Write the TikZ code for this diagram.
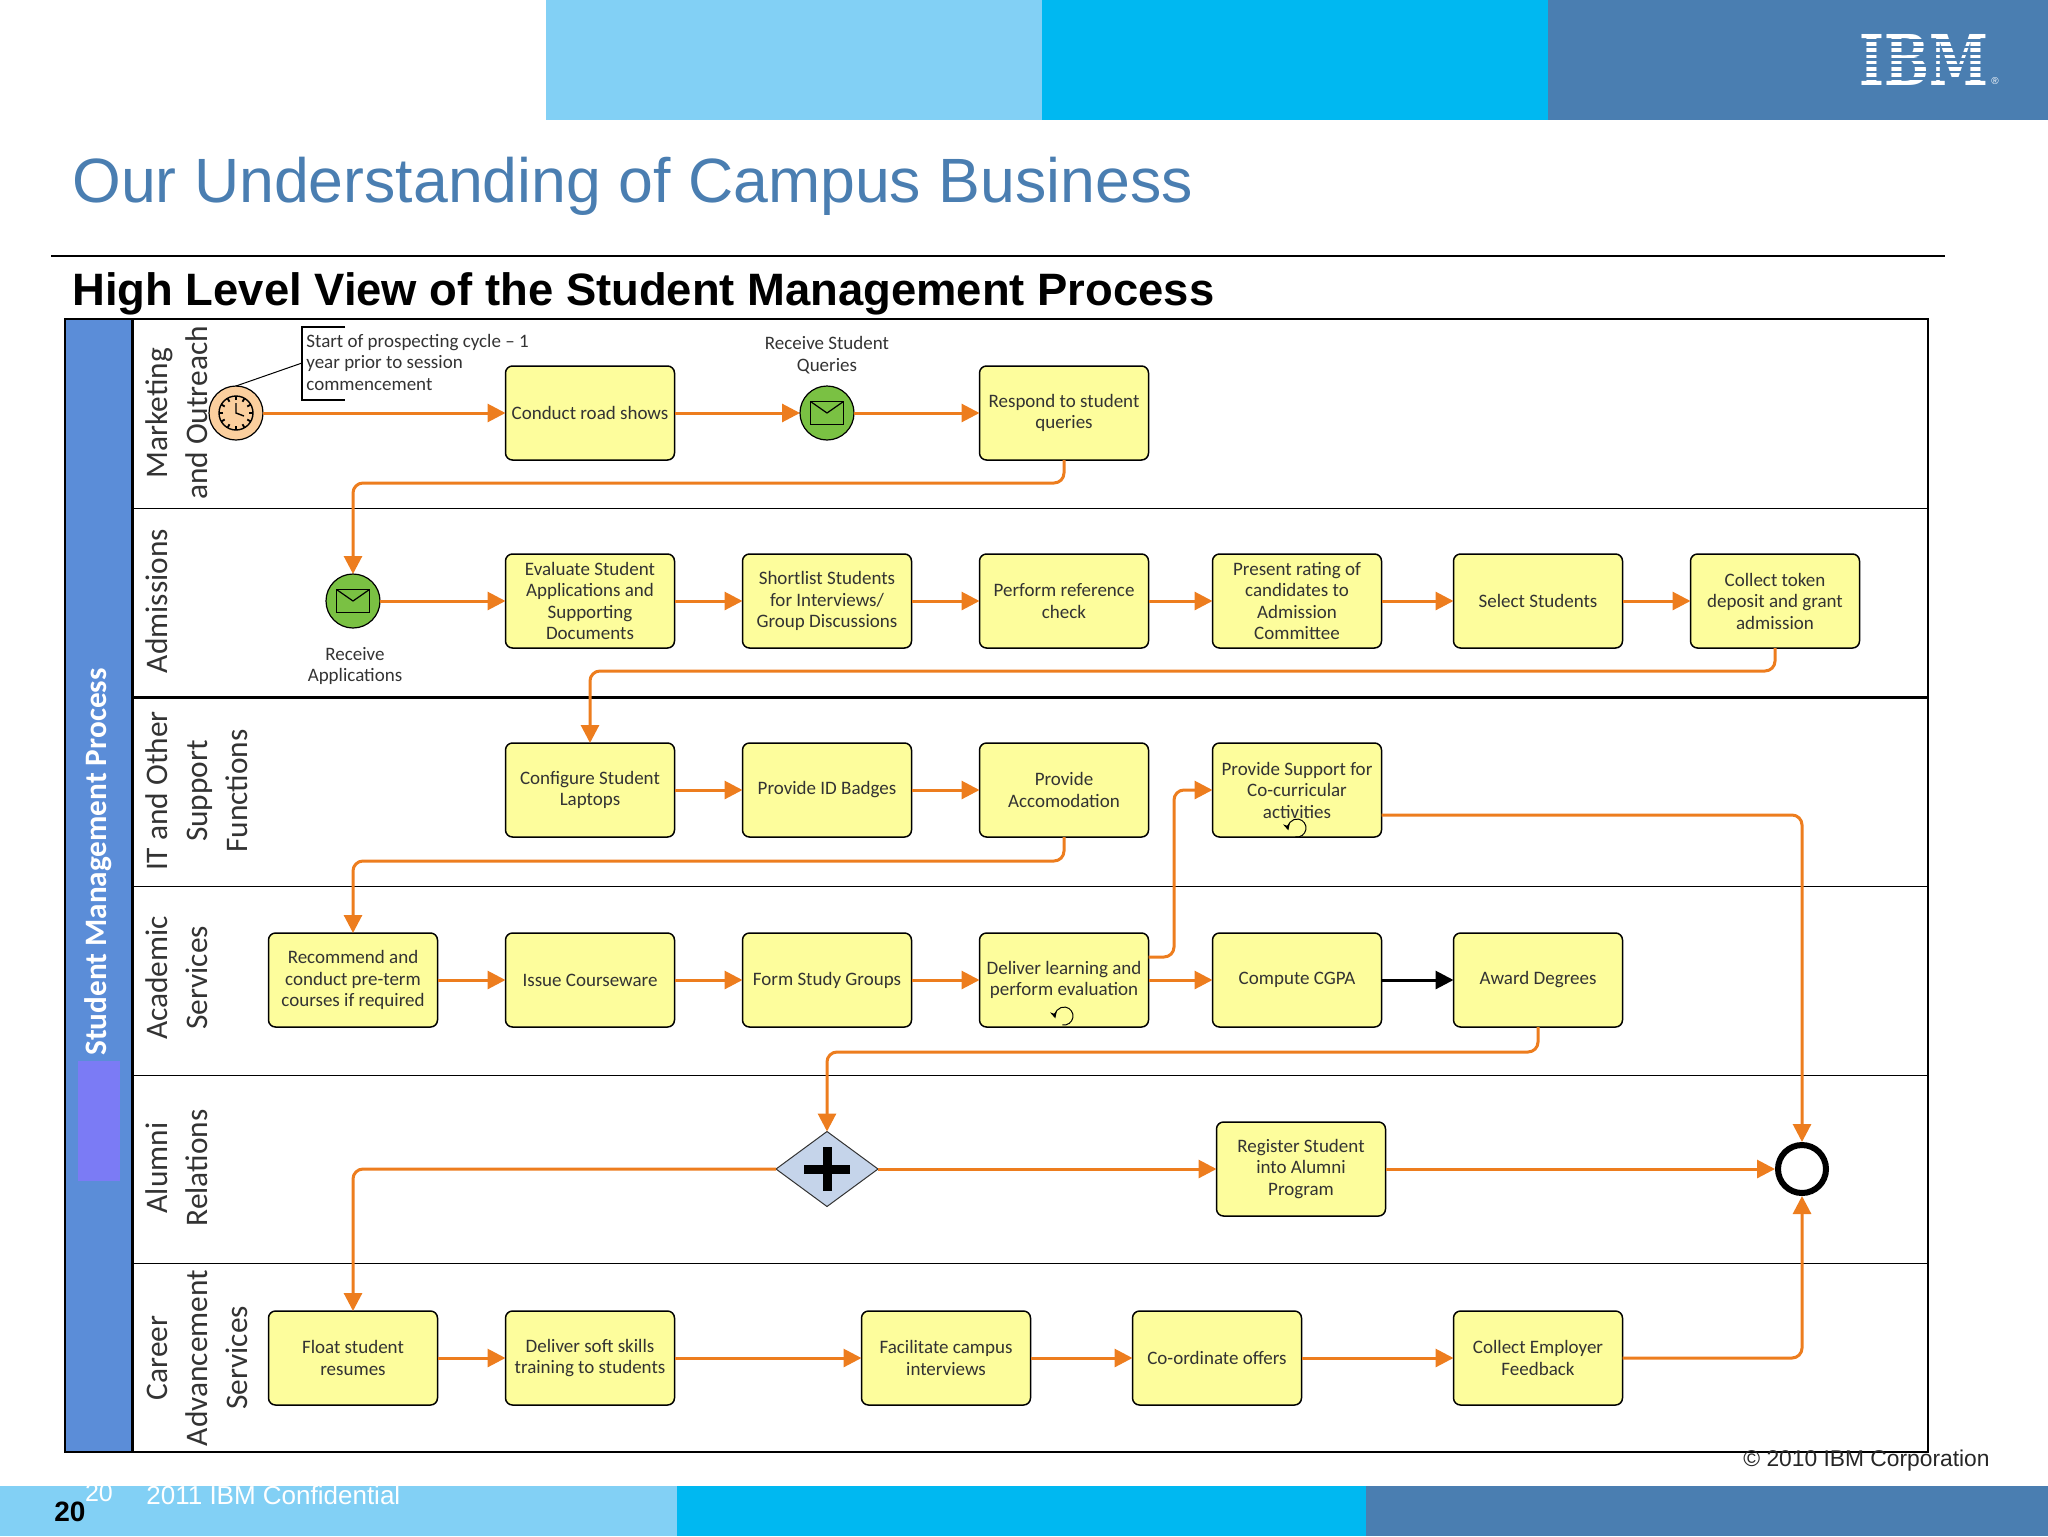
\documentclass[tikz,border=0pt]{standalone}
\usepackage{fontspec}
\setmainfont{Liberation Sans}
\newfontfamily\boxfont{Carlito}
\newfontfamily\logofont{DejaVu Serif}
\usetikzlibrary{arrows.meta,calc,positioning,shapes.geometric}
\definecolor{barlight}{HTML}{82D0F5}
\definecolor{barcyan}{HTML}{00B8F1}
\definecolor{barblue}{HTML}{4A7EB1}
\definecolor{laneblue}{HTML}{5B8DD8}
\definecolor{blobblue}{HTML}{7B7BF5}
\definecolor{flowline}{HTML}{ED7D1E}
\definecolor{taskfill}{HTML}{FDFD9C}
\definecolor{gatefill}{HTML}{C5D4EA}
\definecolor{msgfill}{HTML}{7AC143}
\definecolor{clockfill}{HTML}{FBCF9E}
\definecolor{inktext}{HTML}{333333}
\tikzset{
	task/.style={draw=black,fill=taskfill,rounded corners=3.5pt,line width=0.75pt,minimum width=84.5pt,minimum height=47pt,inner sep=0pt,outer sep=0pt,align=center,font=\boxfont\fontsize{9.5}{10.75}\selectfont,text=inktext},
	evt/.style={circle,draw=black,line width=0.6pt,minimum size=27pt,inner sep=0pt,outer sep=0pt},
	msgevt/.style={evt,fill=msgfill},
	lane/.style={rotate=90,align=center,font=\boxfont\fontsize{15.7}{20}\selectfont,text=inktext},
	caption/.style={align=center,font=\boxfont\fontsize{9.5}{10.75}\selectfont,text=inktext},
	flow/.style={->,color=flowline,line width=1.5pt,rounded corners=5pt},
	laneline/.style={draw=black,line width=0.5pt},
	msgmark/.pic={
		\draw[black,line width=0.6pt] (-16.5,-11.5) rectangle (16.5,11.5);
		\draw[black,line width=0.6pt] (-16.5,-11.5) -- (0,0) -- (16.5,-11.5);
	},
	loopmark/.pic={
		\draw[black,line width=0.5pt,->,>={Stealth[length=3.5pt,width=3.5pt]}] (-100:4.5pt) arc[start angle=-100,end angle=195,radius=4.5pt];
	},
	plusmark/.pic={
		\fill[black] (-23,-4.5) rectangle (23,4.5);
		\fill[black] (-4.5,-22) rectangle (4.5,22);
	},
	clockmark/.pic={
		\draw[black,line width=0.7pt] (0,0) circle[radius=8.5pt];
		\foreach \a in {0,30,...,330}
			\draw[black,line width=0.9pt] (\a:6.5pt) -- (\a:8.5pt);
		\draw[black,line width=0.7pt] (0,-10) -- (0,0) -- (8,3);
	}
}
\begin{document}
\begin{tikzpicture}[x=0.5pt,y=-0.5pt,>={Triangle[length=9pt,width=9pt]},node distance=34pt]
	\useasboundingbox (0,0) rectangle (2048,1536);
	\fill[barlight] (546,0) rectangle (1042,120);
	\fill[barcyan] (1042,0) rectangle (1548,120);
	\fill[barblue] (1548,0) rectangle (2048,120);
	\fill[barlight] (0,1486) rectangle (677,1536);
	\fill[barcyan] (677,1486) rectangle (1366,1536);
	\fill[barblue] (1366,1486) rectangle (2048,1536);

	\node[text=white,inner sep=0pt,font=\logofont\bfseries\fontsize{35}{35}\selectfont] (logo) at (1924,60) {\scalebox{0.76}[1]{IBM}};
	\foreach \y in {39.5,45.75,52,58.25,64.5,70.75,77}
		\fill[barblue] (1855,\y) rectangle (1990,\y+2.6);
	\node[text=white,inner sep=0pt,font=\fontsize{5}{5}\selectfont] (logomark) at (1995,81) {®};

	\node[anchor=base west,inner sep=0pt,text=barblue,font=\fontsize{31.3}{31.3}\selectfont] (title) at (72,202) {Our Understanding of Campus Business};
	\draw[black,line width=1.2pt] (51,256) -- (1945,256);
	\node[anchor=base west,inner sep=0pt,font=\bfseries\fontsize{22.7}{22.7}\selectfont] (subtitle) at (72,305) {High Level View of the Student Management Process};

	\fill[laneblue] (65,319) rectangle (132,1452);
	\fill[blobblue] (78,1061) rectangle (120,1181);
	\draw[laneline,line width=0.75pt] (65,319) rectangle (1928,1452);
	\draw[black,line width=1.5pt] (132,319) -- (132,1452);
	\foreach \y in {508,886,1075,1263}
		\draw[laneline] (132,\y) -- (1928,\y);
	\draw[black,line width=1.5pt] (132,697) -- (1928,697);

	\node[lane,text=white,font=\boxfont\bfseries\fontsize{15.6}{18}\selectfont] (process) at (98,862) {Student Management Process};
	\node[lane] (marketing) at (177,413) {Marketing\\and Outreach};
	\node[lane] (admissions) at (157,601) {Admissions};
	\node[lane] (itsupport) at (197,791) {IT and Other\\Support\\Functions};
	\node[lane] (academic) at (177,978) {Academic\\Services};
	\node[lane] (alumni) at (177,1168) {Alumni\\Relations};
	\node[lane] (career) at (197,1358) {Career\\Advancement\\Services};

	\node[evt,fill=clockfill] (clock) at (236,413) {};
	\pic at (clock) {clockmark};
	\coordinate (noteend) at (302,363);
	\draw[black,line width=0.5pt] (clock.north) -- (noteend);
	\draw[black,line width=0.7pt] (345,327) -| (302,400) -- (345,400);
	\node[anchor=west,inner sep=0pt,align=left,font=\boxfont\fontsize{9.5}{10.75}\selectfont,text=inktext] (note) at (306,362) {Start of prospecting cycle – 1\\year prior to session\\commencement};

	\node[task] (roadshows) at (590,413) {Conduct road shows};
	\node[msgevt] (queries) at (827,413) {};
	\pic at (queries) {msgmark};
	\node[caption] (querycap) at (827,355) {Receive Student\\Queries};
	\node[task] (respond) at (1064,413) {Respond to student\\queries};

	\node[msgevt] (recvapp) at (353,601) {};
	\pic at (recvapp) {msgmark};
	\node[caption] (recvcap) at (355,666) {Receive\\Applications};
	\node[task] (evaluate) at (590,601) {Evaluate Student\\Applications and\\Supporting\\Documents};
	\node[task] [right= of evaluate] (shortlist) {Shortlist Students\\for Interviews/\\Group Discussions};
	\node[task] [right= of shortlist] (reference) {Perform reference\\check};
	\node[task] [right=32pt of reference] (rating) {Present rating  of\\candidates to\\Admission\\Committee};
	\node[task] [right=36pt of rating] (select) {Select Students};
	\node[task] [right= of select] (token) {Collect token\\deposit and grant\\admission};

	\node[task] (laptops) at (590,790) {Configure Student\\Laptops};
	\node[task] [right= of laptops] (badges) {Provide ID Badges};
	\node[task] [right= of badges] (accom) {Provide\\Accomodation};
	\node[task] [right=32pt of accom] (cocurr) {Provide Support for\\Co-curricular\\activities};
	\pic at ([yshift=4.5pt]cocurr.south) {loopmark};

	\node[task] (preterm) at (353,980) {Recommend and\\conduct pre-term\\courses if required};
	\node[task] [right= of preterm] (courseware) {Issue Courseware};
	\node[task] [right= of courseware] (groups) {Form Study Groups};
	\node[task] [right= of groups] (teach) {Deliver learning and\\perform evaluation};
	\pic at ([yshift=5.5pt]teach.south) {loopmark};
	\node[task] [right=32pt of teach] (cgpa) {Compute CGPA};
	\node[task] [right=36pt of cgpa] (degrees) {Award Degrees};

	\node[diamond,draw=inktext,fill=gatefill,line width=0.5pt,minimum width=51pt,minimum height=37.5pt,aspect=1.36,inner sep=0pt,outer sep=0pt] (gate) at (827,1169) {};
	\pic at (gate) {plusmark};
	\node[task] (register) at (1301,1169) {Register Student\\into Alumni\\Program};
	\node[circle,draw=black,fill=white,line width=3pt,minimum size=24pt,inner sep=0pt,outer sep=1.5pt] (finish) at (1802,1169) {};

	\node[task] (resumes) at (353,1358) {Float student\\resumes};
	\node[task] [right= of resumes] (softskills) {Deliver soft skills\\training to students};
	\node[task] (interviews) at (946,1358) {Facilitate campus\\interviews};
	\node[task] (offers) at (1217,1358) {Co-ordinate offers};
	\node[task] (feedback) at (1538,1358) {Collect Employer\\Feedback};

	\coordinate (bendapp) at (353,483);
	\coordinate (bendlaptops) at (590,671);
	\coordinate (bendpreterm) at (353,861);
	\coordinate (bendgate) at (827,1052);
	\coordinate (outteach) at (teach.east |- 0,957);
	\coordinate (bendteach) at (1174,957);
	\coordinate (outcocurr) at (cocurr.east |- 0,815);

	\path[flow]
		(clock) edge (roadshows)
		(roadshows) edge (queries)
		(queries) edge (respond)
		(recvapp) edge (evaluate)
		(evaluate) edge (shortlist)
		(shortlist) edge (reference)
		(reference) edge (rating)
		(rating) edge (select)
		(select) edge (token)
		(laptops) edge (badges)
		(badges) edge (accom)
		(preterm) edge (courseware)
		(courseware) edge (groups)
		(groups) edge (teach)
		(teach) edge (cgpa)
		(gate) edge (register)
		(register) edge (finish)
		(resumes) edge (softskills)
		(softskills) edge (interviews)
		(interviews) edge (offers)
		(offers) edge (feedback);
	\path[flow,color=black] (cgpa) edge (degrees);
	\draw[flow] (respond.south) |- (bendapp) -- (recvapp.north);
	\draw[flow] (token.south) |- (bendlaptops) -- (laptops.north);
	\draw[flow] (accom.south) |- (bendpreterm) -- (preterm.north);
	\draw[flow] (degrees.south) |- (bendgate) -- (gate.north);
	\draw[flow] (outteach) -- (bendteach) |- (cocurr.west);
	\draw[flow] (outcocurr) -| (finish.north);
	\draw[flow] (gate.west) -| (resumes.north);
	\draw[flow] (feedback.east) -| (finish.south);

	\node[anchor=east,inner sep=0pt,font=\fontsize{11.4}{11.4}\selectfont,text=black!85] (copyright) at (1990,1461) {© 2010 IBM Corporation};
	\node[inner sep=0pt,font=\bfseries\fontsize{14}{14}\selectfont] (pagebold) at (70,1512) {20};
	\node[inner sep=0pt,text=white,font=\fontsize{12.5}{12.5}\selectfont] (pagelight) at (99,1493) {20};
	\node[anchor=west,inner sep=0pt,text=white,font=\fontsize{13}{13}\selectfont] (confidential) at (146,1495) {2011 IBM Confidential};
\end{tikzpicture}
\end{document}
